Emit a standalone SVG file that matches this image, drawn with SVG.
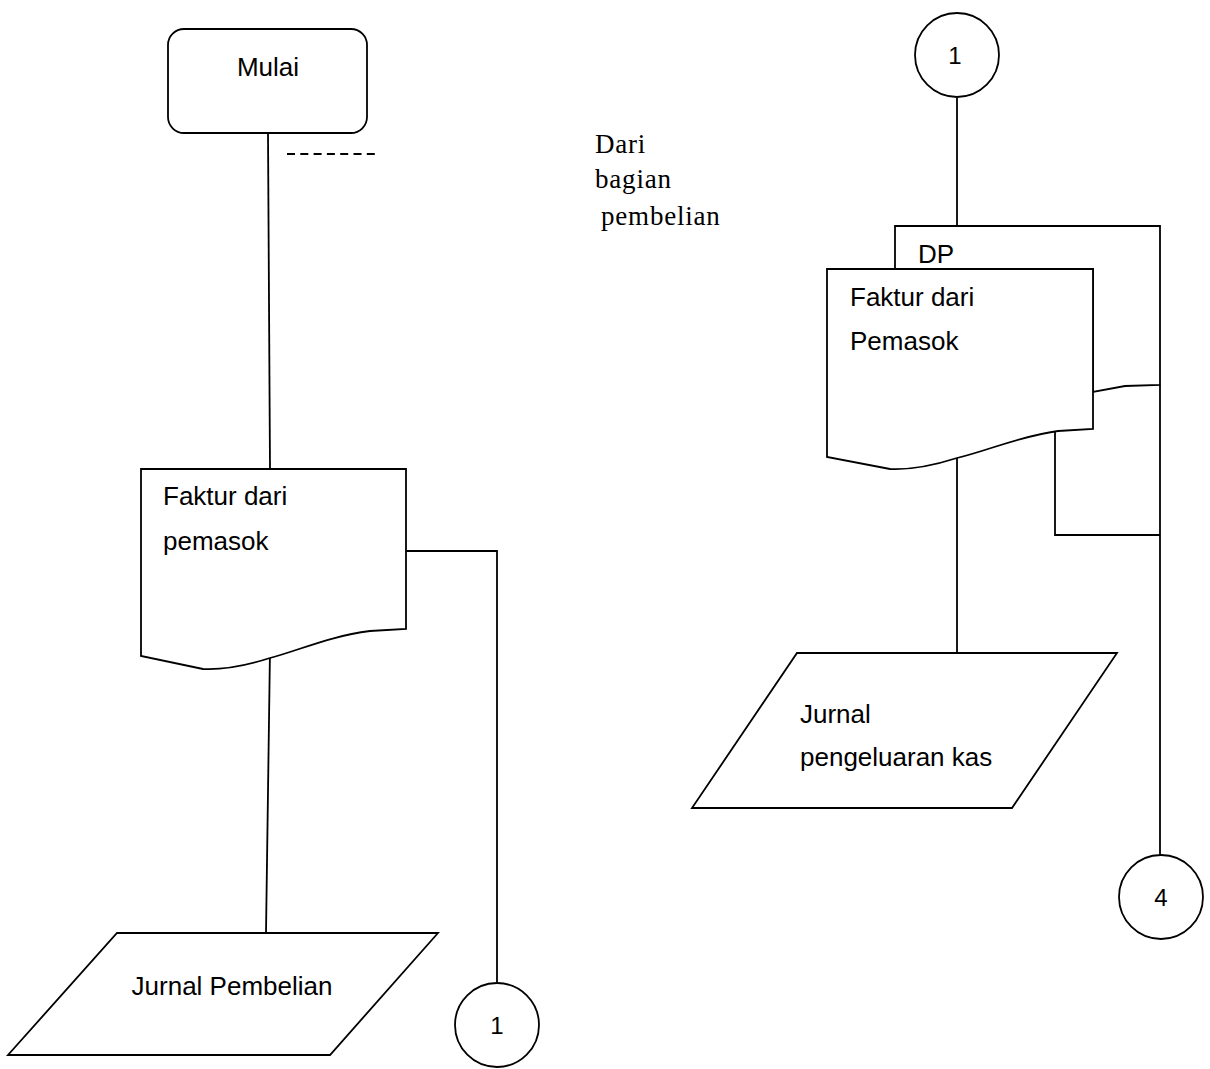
<svg xmlns="http://www.w3.org/2000/svg" width="1210" height="1069" viewBox="0 0 1210 1069">
  <style>
    .shape { fill: #ffffff; stroke: #000000; stroke-width: 1.8; }
    .wire { fill: none; stroke: #000000; stroke-width: 1.8; }
    .lbl { font-family: "Liberation Sans", Arial, sans-serif; font-size: 26px; fill: #000000; }
    .num { font-family: "Liberation Sans", Arial, sans-serif; font-size: 24px; fill: #000000; text-anchor: middle; }
    .note { font-family: "Liberation Serif", "Times New Roman", serif; font-size: 27px; fill: #000000; letter-spacing: 0.8px; }
  </style>
  <rect width="1210" height="1069" fill="#ffffff"/>

  <!-- connectors -->
  <g id="connectors">
    <path class="wire" d="M268 133 L270 469"/>
    <path class="wire" d="M287 154 L379 154" stroke-dasharray="8 5.3"/>
    <path class="wire" d="M270 650 L266 933"/>
    <path class="wire" d="M406 551 L497 551 L497 983"/>
    <path class="wire" d="M957 98 L957 226"/>
    <path class="wire" d="M957 458 L957 653"/>
    <path class="wire" d="M1055 425 L1055 535 L1160 535"/>
    <path class="wire" d="M1160 385 L1160 855"/>
  </g>

  <!-- start terminator -->
  <g id="mulai">
    <rect class="shape" x="168" y="29" width="199" height="104" rx="16" ry="16"/>
    <text class="lbl" x="268" y="76" text-anchor="middle" font-size="28">Mulai</text>
  </g>

  <!-- source note -->
  <g id="dari-bagian">
    <text class="note" x="595" y="153">Dari</text>
    <text class="note" x="595" y="188">bagian</text>
    <text class="note" x="601" y="225">pembelian</text>
  </g>

  <!-- invoice document, left column -->
  <g id="faktur-kiri">
    <path class="shape" d="M141 469 L406 469 L406 629 L370 631 C330 636 300 650 270 658 C245 666 225 670 203 669 L141 656 Z"/>
    <text class="lbl" x="163" y="505">Faktur dari</text>
    <text class="lbl" x="163" y="550">pemasok</text>
  </g>

  <!-- purchase journal -->
  <g id="jurnal-pembelian">
    <path class="shape" d="M117 933 L438 933 L330 1055 L8 1055 Z"/>
    <text class="lbl" x="232" y="995" text-anchor="middle">Jurnal Pembelian</text>
  </g>

  <!-- off-page connector 1, left -->
  <g id="konektor-1-bawah">
    <circle class="shape" cx="497" cy="1025" r="42"/>
    <text class="num" x="497" y="1034">1</text>
  </g>

  <!-- off-page connector 1, right -->
  <g id="konektor-1-atas">
    <circle class="shape" cx="957" cy="55" r="42"/>
    <text class="num" x="955" y="64">1</text>
  </g>

  <!-- DP copy behind the invoice -->
  <g id="dp">
    <path class="shape" d="M895 269 L895 226 L1160 226 L1160 385 L1125 386 L1093 392 L1093 269 Z"/>
    <text class="lbl" x="918" y="263">DP</text>
  </g>

  <!-- invoice document, right column -->
  <g id="faktur-kanan">
    <path class="shape" d="M827 269 L1093 269 L1093 429 L1058 431 C1020 436 990 450 957 458 C932 466 912 470 890 469 L827 457 Z"/>
    <text class="lbl" x="850" y="306">Faktur dari</text>
    <text class="lbl" x="850" y="350">Pemasok</text>
  </g>

  <!-- cash disbursement journal -->
  <g id="jurnal-pengeluaran-kas">
    <path class="shape" d="M797 653 L1117 653 L1012 808 L692 808 Z"/>
    <text class="lbl" x="800" y="723">Jurnal</text>
    <text class="lbl" x="800" y="766">pengeluaran kas</text>
  </g>

  <!-- off-page connector 4 -->
  <g id="konektor-4">
    <circle class="shape" cx="1161" cy="897" r="42"/>
    <text class="num" x="1161" y="906">4</text>
  </g>
</svg>
